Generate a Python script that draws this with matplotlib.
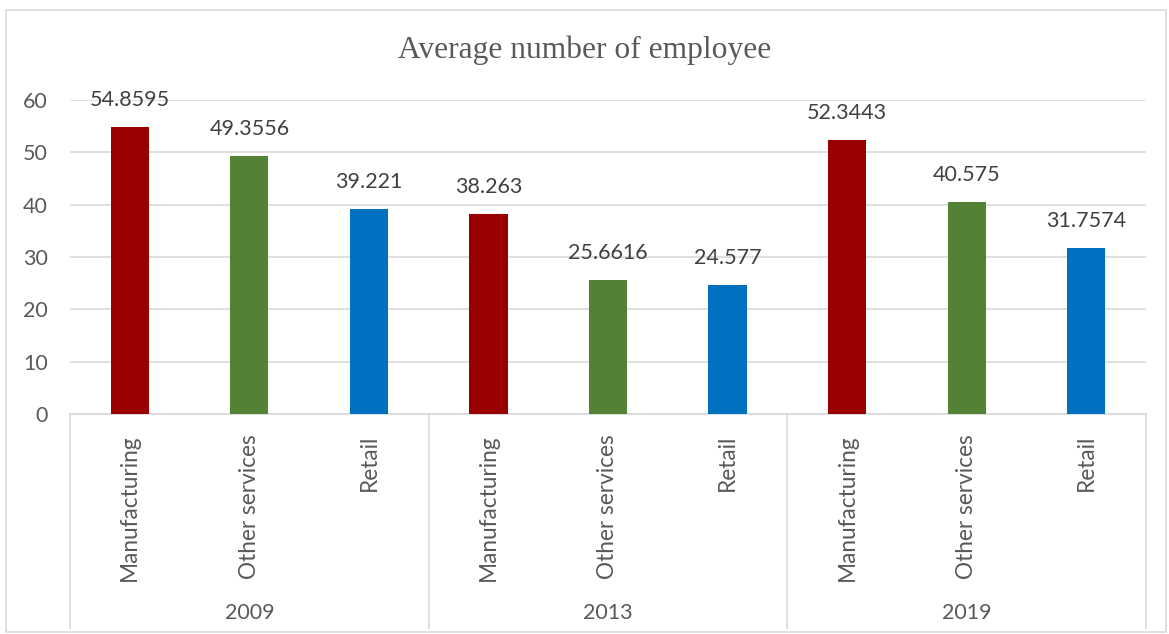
import matplotlib.pyplot as plt
import matplotlib.transforms as mtransforms
from matplotlib.patches import Rectangle

years = ['2009', '2013', '2019']
sectors = ['Manufacturing', 'Other services', 'Retail']
values_2009 = [54.8595, 49.3556, 39.221]
values_2013 = [38.263, 25.6616, 24.577]
values_2019 = [52.3443, 40.575, 31.7574]
colors = ['#990000', '#538135', '#0070C0']

all_values = [values_2009, values_2013, values_2019]

fig = plt.figure(figsize=(11.69, 6.34), dpi=100)
ax = fig.add_axes([0.0599, 0.347, 0.9204, 0.4953])

font = 'Lato'
txt = '#595959'

x = 0
for g, vals in enumerate(all_values):
    for i, v in enumerate(vals):
        ax.bar(x + 0.5, v, width=0.32, color=colors[i], zorder=3)
        ax.annotate(f'{v:g}', (x + 0.5, v), xytext=(0, 19.5), textcoords='offset points',
                    ha='center', va='center', fontsize=15.5, color='#404040', family=font)
        x += 1

ax.set_xlim(0, x)
ax.set_ylim(0, 60)
ax.set_yticks(range(0, 61, 10))
ax.grid(axis='y', color='#d9d9d9', linewidth=1.2, zorder=0)
ax.tick_params(axis='y', length=0, pad=16, labelsize=15.5, labelcolor=txt)
for lab in ax.get_yticklabels():
    lab.set_family(font)
ax.set_xticks([])
for side in ['top', 'right', 'left']:
    ax.spines[side].set_visible(False)
ax.spines['bottom'].set_color('#d9d9d9')
ax.spines['bottom'].set_linewidth(1.2)

# two-level category axis drawn below the plot
trans = mtransforms.blended_transform_factory(ax.transData, ax.transAxes)
for sep in range(0, x + 1, 3):
    ax.plot([sep, sep], [0, -0.68], transform=trans, color='#d9d9d9',
            linewidth=1.2, clip_on=False)
x = 0
for g, year in enumerate(years):
    for s in sectors:
        ax.text(x + 0.5, -0.065, s, transform=trans, rotation=90, ha='center', va='top',
                fontsize=16.3, color=txt, family=font)
        x += 1
    ax.text(x - 1.5, -0.635, year, transform=trans, ha='center', va='center',
            fontsize=15.5, color=txt, family=font)

fig.text(0.5, 0.921, 'Average number of employee', ha='center', va='center',
         fontsize=22.7, color=txt, family='Liberation Serif')

fig.patches.append(Rectangle((6 / 1169, 2 / 634), 1160 / 1169, 622 / 634,
                             transform=fig.transFigure, fill=False,
                             edgecolor='#d9d9d9', linewidth=1.2))

fig.savefig('out.png', dpi=100)
